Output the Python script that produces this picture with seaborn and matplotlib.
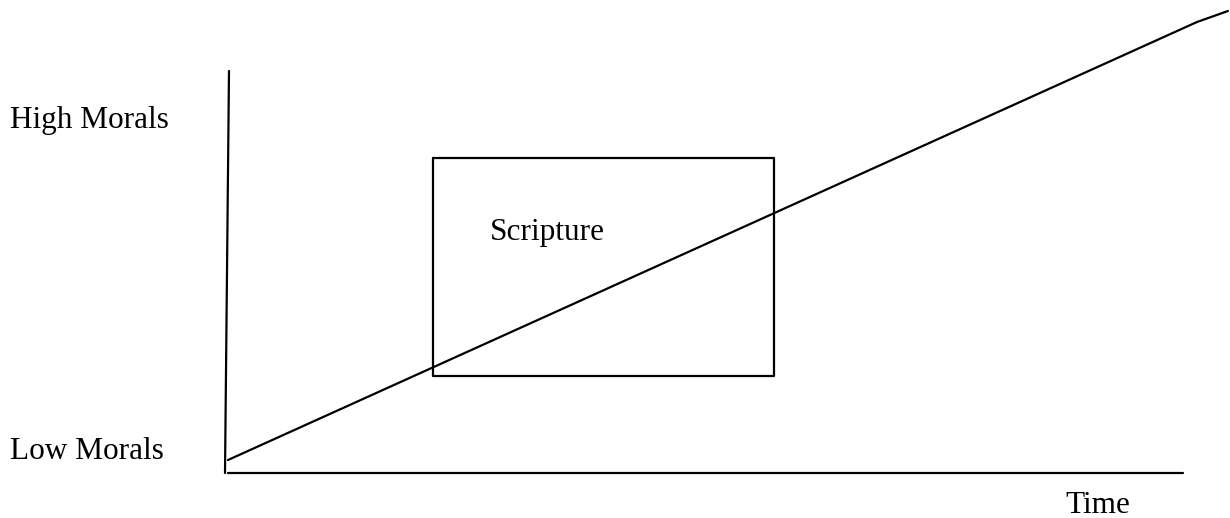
import pandas as pd
import matplotlib.pyplot as plt
import seaborn as sns

# picture coordinates (pixels, y grows downward)
vert_x = [229, 225]
vert_y = [71, 473]
horiz_x = [228, 1183]
horiz_y = [473, 473]
trend_x = [228, 1197, 1228]
trend_y = [460, 22, 11]
box_x = [433, 774, 774, 433, 433]
box_y = [158, 158, 376, 376, 158]

labels = ["High Morals", "Low Morals", "Scripture", "Time"]
label_x = [10, 10, 490, 1065]
label_y = [128, 459, 240, 513]

sns.set_style("white")
plt.rcParams["font.family"] = ["Liberation Serif", "DejaVu Serif"]

fig = plt.figure(figsize=(12.3, 5.18), dpi=100)
ax = fig.add_axes([0, 0, 1, 1])

for xs, ys in [(vert_x, vert_y), (horiz_x, horiz_y), (trend_x, trend_y), (box_x, box_y)]:
    df = pd.DataFrame({"x": xs, "y": ys})
    sns.lineplot(data=df, x="x", y="y", sort=False, estimator=None,
                 color="black", linewidth=1.6, ax=ax)

for txt, tx, ty in zip(labels, label_x, label_y):
    ax.text(tx, ty, txt, fontsize=22.5, color="black", va="baseline", ha="left")

ax.set_xlim(0, 1230)
ax.set_ylim(518, 0)
ax.axis("off")

fig.savefig("out.png", dpi=100)
